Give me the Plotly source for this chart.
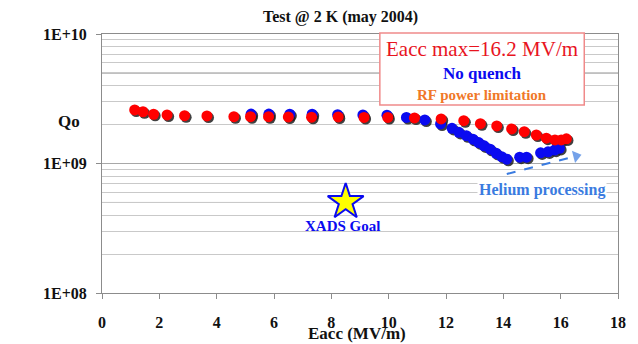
import math
import plotly.graph_objects as go

# Measured Q0 vs accelerating field, test at 2 K (May 2004)
red_eacc = [1.14, 1.43, 1.80, 2.27, 2.88, 3.66, 4.60, 5.18, 5.81, 6.50, 7.31,
            8.24, 9.14, 9.97, 10.90, 11.83, 12.62, 13.20, 13.77, 14.29, 14.73,
            15.15, 15.50, 15.80, 16.02, 16.20]
red_q0 = [2.59e9, 2.51e9, 2.40e9, 2.37e9, 2.34e9, 2.33e9, 2.30e9, 2.30e9, 2.30e9,
          2.29e9, 2.28e9, 2.29e9, 2.27e9, 2.27e9, 2.25e9, 2.21e9, 2.14e9, 2.03e9,
          1.95e9, 1.85e9, 1.76e9, 1.66e9, 1.57e9, 1.52e9, 1.52e9, 1.55e9]

blue_eacc = [5.20, 5.82, 6.55, 7.33, 8.22, 9.10, 9.94, 10.62, 11.26, 11.81, 12.21,
             12.45, 12.71, 12.94, 13.14, 13.33, 13.54, 13.75, 13.94, 14.12, 14.57,
             14.81, 15.30, 15.56, 15.79, 15.96]
blue_q0 = [2.41e9, 2.41e9, 2.40e9, 2.40e9, 2.38e9, 2.37e9, 2.36e9, 2.27e9, 2.17e9,
           2.02e9, 1.87e9, 1.74e9, 1.64e9, 1.54e9, 1.45e9, 1.37e9, 1.29e9, 1.20e9,
           1.13e9, 1.08e9, 1.12e9, 1.12e9, 1.21e9, 1.23e9, 1.27e9, 1.31e9]

goal_eacc = [8.5]
goal_q0 = [5.05e8]

x_tick_vals = [0, 2, 4, 6, 8, 10, 12, 14, 16, 18]
y_tick_vals = [1e8, 1e9, 1e10]
y_tick_text = ["1E+08", "1E+09", "1E+10"]
y_minor_vals = [m * d for d in (1e8, 1e9) for m in range(2, 10)]
y_dark_grid = [5e8, 5e9]

# Helium processing arrow (start, tip)
helium_eacc = [14.12, 16.54]
helium_q0 = [8.3e8, 1.14e9]

FONT = "Liberation Serif, Times New Roman, DejaVu Serif, serif"
RED = "#ff0000"
BLUE = "#0a0af0"
ORANGE = "#f07828"
HE_BLUE = "#3a7be0"
SHADOW = "#1e1e1e"

W, H = 638, 344
M_L, M_R, M_T, M_B = 102, 16, 34, 51
PW, PH = W - M_L - M_R, H - M_T - M_B
X_RANGE = [0, 18]
Y_RANGE = [8, 10]
# drop-shadow offset (pixels) converted into axis units
sx = 1.6 * (X_RANGE[1] - X_RANGE[0]) / PW
sy = 1.6 * (Y_RANGE[1] - Y_RANGE[0]) / PH

fig = go.Figure()

# shadows on the hidden base axes (drawn first, shifted down-right)
for xs, ys in ((blue_eacc, blue_q0), (red_eacc, red_q0)):
    fig.add_trace(go.Scatter(
        x=xs, y=ys, mode="markers", xaxis="x", yaxis="y",
        marker=dict(size=11, color=SHADOW, opacity=0.85, line=dict(width=0)),
        hoverinfo="skip", showlegend=False))

fig.add_trace(go.Scatter(
    x=blue_eacc, y=blue_q0, mode="markers", xaxis="x2", yaxis="y2",
    marker=dict(size=11, color=BLUE, line=dict(width=0)), showlegend=False))
fig.add_trace(go.Scatter(
    x=red_eacc, y=red_q0, mode="markers", xaxis="x2", yaxis="y2",
    marker=dict(size=11, color=RED, line=dict(width=0)), showlegend=False))

# XADS goal
fig.add_trace(go.Scatter(
    x=goal_eacc, y=goal_q0, mode="markers", xaxis="x2", yaxis="y2",
    marker=dict(symbol="star", size=27, color="#ffff00",
                line=dict(color=BLUE, width=2)), showlegend=False))

# helium processing dashed arrow, head oriented along the shaft
fig.add_trace(go.Scatter(
    x=helium_eacc, y=helium_q0, mode="lines+markers", xaxis="x2", yaxis="y2",
    line=dict(color=HE_BLUE, width=2, dash="dash"),
    marker=dict(symbol=["circle", "triangle-up"], size=[0, 11],
                color=HE_BLUE, angleref="previous", line=dict(width=0)),
    hoverinfo="skip", showlegend=False))

grid_light = "#c9c9c9"
axis_col = "#8c8c8c"
tick_font = dict(family=FONT, size=16, color="#111111", weight="bold")

fig.update_layout(
    width=W, height=H,
    margin=dict(l=M_L, r=M_R, t=M_T, b=M_B),
    paper_bgcolor="white", plot_bgcolor="white",
    font=dict(family=FONT, size=16, color="#111111"),
    xaxis=dict(range=[X_RANGE[0] - sx, X_RANGE[1] - sx], visible=False,
               fixedrange=True),
    yaxis=dict(type="log", range=[Y_RANGE[0] + sy, Y_RANGE[1] + sy],
               visible=False, fixedrange=True),
    xaxis2=dict(overlaying="x", anchor="y2", side="bottom",
                range=X_RANGE, tickvals=x_tick_vals, showgrid=False,
                zeroline=False, showline=True, linecolor=axis_col, linewidth=1,
                mirror=True, ticks="outside", ticklen=5, tickcolor=axis_col,
                ticklabelstandoff=10, tickfont=tick_font),
    yaxis2=dict(overlaying="y", anchor="x2", side="left", type="log",
                range=Y_RANGE, tickvals=y_tick_vals, ticktext=y_tick_text,
                showgrid=True, gridcolor="#a8a8a8", gridwidth=1,
                minor=dict(tickvals=y_minor_vals, showgrid=True,
                           gridcolor=grid_light, gridwidth=1, ticks=""),
                zeroline=False, showline=True, linecolor=axis_col, linewidth=1,
                mirror=True, ticks="outside", ticklen=5, tickcolor=axis_col,
                ticklabelstandoff=6, tickfont=tick_font),
)


def px_x(p):
    return (p - M_L) / PW


def px_y(p):
    return (H - M_B - p) / PH


shapes = []
for v in y_dark_grid:
    shapes.append(dict(type="line", xref="paper", yref="y2", x0=0, x1=1,
                       y0=v, y1=v, layer="between",
                       line=dict(color="#7a7a7a", width=1)))
# annotation box
shapes.append(dict(type="rect", xref="paper", yref="paper",
                   x0=px_x(382), x1=px_x(588), y0=px_y(105), y1=px_y(33),
                   fillcolor="white", line=dict(color="#f08a8a", width=1.5),
                   layer="above"))
fig.update_layout(shapes=shapes)


def label(text, x, y, size, color, **kw):
    return dict(text=text, xref="paper", yref="paper", x=px_x(x), y=px_y(y),
                xanchor="center", yanchor="middle", showarrow=False,
                font=dict(family=FONT, size=size, color=color), **kw)


annotations = [
    label("<b>Test @ 2 K (may 2004)</b>", 342, 17, 16, "#111111"),
    label("<b>Qo</b>", 69, 121, 17, "#111111"),
    label("<b>Eacc (MV/m)</b>", 359, 333, 17, "#111111"),
    label("Eacc max=16.2 MV/m", 485, 49, 21, "#e8141e"),
    label("<b>No quench</b>", 485, 73, 17, BLUE),
    label("<b>RF power limitation</b>", 485, 95, 15, ORANGE),
    label("<b>Helium processing</b>", 545, 190, 16, HE_BLUE,
          bgcolor="white", borderpad=1),
    dict(text="<b>XADS Goal</b>", xref="x2", yref="y2",
         x=goal_eacc[0], y=math.log10(goal_q0[0]),
         xanchor="center", yanchor="middle",
         yshift=-24, xshift=-3, showarrow=False,
         font=dict(family=FONT, size=15, color=BLUE)),
]
fig.update_layout(annotations=annotations)

fig.write_html("out.html")
